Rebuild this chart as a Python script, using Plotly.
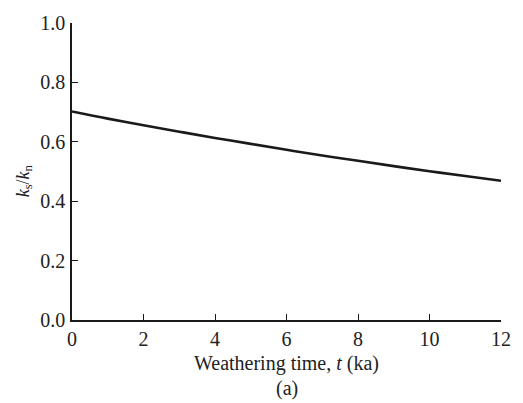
import plotly.graph_objects as go

t_ka = [0, 1, 2, 3, 4, 5, 6, 7, 8, 9, 10, 11, 12]
ks_kn = [0.702, 0.678, 0.656, 0.634, 0.613, 0.593, 0.573, 0.554, 0.536, 0.518, 0.501, 0.485, 0.469]
x_ticks = [0, 2, 4, 6, 8, 10, 12]
y_ticks = [0.0, 0.2, 0.4, 0.6, 0.8, 1.0]

FONT = "Liberation Serif, Times New Roman, serif"

fig = go.Figure()
fig.add_trace(go.Scatter(x=t_ka, y=ks_kn, mode="lines",
                         line=dict(color="#1a1a1a", width=2.6, shape="spline"),
                         showlegend=False, hoverinfo="skip"))

axis_common = dict(showgrid=False, zeroline=False, showline=True, linecolor="#1a1a1a",
                   linewidth=1.5, ticks="inside", ticklen=6, tickwidth=1.3, tickcolor="#1a1a1a",
                   tickfont=dict(family=FONT, size=20, color="#222"), mirror=False)

fig.update_xaxes(range=[0, 12], tickvals=x_ticks, ticktext=[str(v) for v in x_ticks],
                 **axis_common)
fig.update_yaxes(range=[0, 1.0], tickvals=y_ticks, ticktext=[f"{v:.1f}" for v in y_ticks],
                 **axis_common)
fig.update_xaxes(ticklabelstandoff=0)
fig.update_yaxes(ticklabelstandoff=1)

fig.update_layout(
    width=523, height=403,
    margin=dict(l=72, r=16, t=14, b=83),
    paper_bgcolor="white", plot_bgcolor="white",
    font=dict(family=FONT, color="#222"),
    annotations=[
        dict(text="Weathering time, <i>t</i> (ka)", xref="paper", yref="paper",
             x=0.5, y=-0.1, xanchor="center", yanchor="top", showarrow=False,
             font=dict(family=FONT, size=20, color="#222")),
        dict(text="(a)", xref="paper", yref="paper",
             x=0.5, y=-0.185, xanchor="center", yanchor="top", showarrow=False,
             font=dict(family=FONT, size=20, color="#222")),
        dict(text="<i>k</i><sub>s</sub>/<i>k</i><sub>n</sub>", xref="paper", yref="paper",
             x=-0.112, y=0.47, xanchor="center", yanchor="middle", showarrow=False,
             textangle=-90, font=dict(family=FONT, size=18, color="#222")),
    ],
)

fig.write_html("out.html")
